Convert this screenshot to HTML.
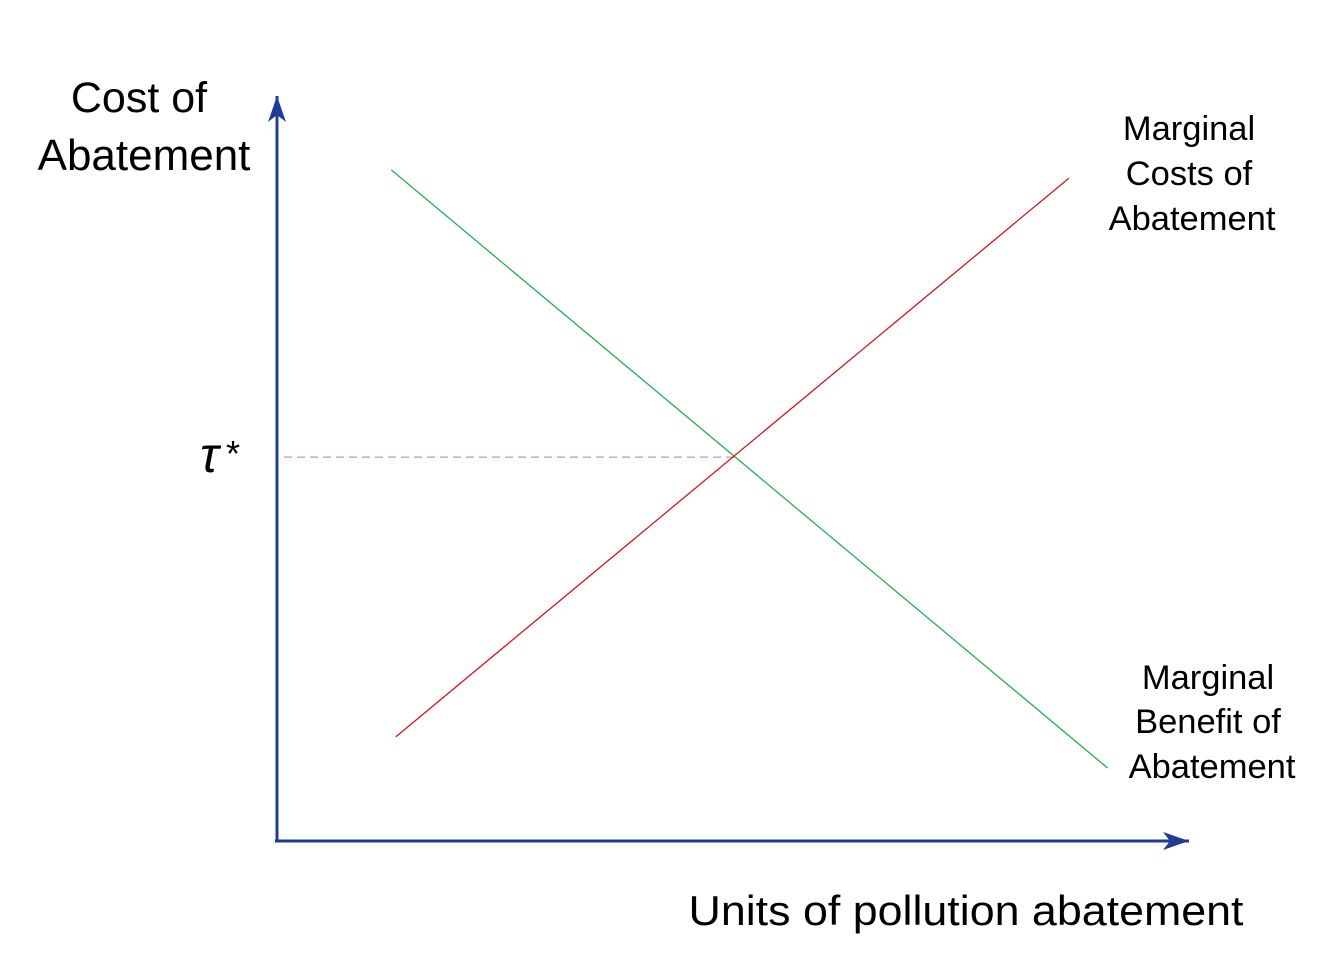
<!DOCTYPE html>
<html><head><meta charset="utf-8"><style>
html,body{margin:0;padding:0;background:#fff;}
svg{display:block;}
text{font-family:"Liberation Sans",sans-serif;fill:#000;}
</style></head><body>
<svg id="chart" width="1318" height="958" viewBox="0 0 1318 958">
<defs>
<marker id="arrBig" markerWidth="28" markerHeight="22" refX="26" refY="11" orient="auto" markerUnits="userSpaceOnUse">
<path d="M0,2 L26,11 L0,20 L7,11 Z" fill="#1f3c96"/>
</marker>
</defs>
<line x1="277" y1="842" x2="277" y2="96" stroke="#1f3c96" stroke-width="3" marker-end="url(#arrBig)"/>
<line x1="275" y1="841" x2="1189" y2="841" stroke="#1f3c96" stroke-width="3" marker-end="url(#arrBig)"/>
<g id="marks"></g>
<text x="139" y="112" font-size="43" text-anchor="middle">Cost of</text>
<text x="144" y="170" font-size="44" text-anchor="middle">Abatement</text>
<text x="966" y="925" font-size="42" text-anchor="middle" textLength="555" lengthAdjust="spacingAndGlyphs">Units of pollution abatement</text>
<g font-size="34.5" text-anchor="middle">
<text x="1189" y="140">Marginal</text><text x="1189" y="185">Costs of</text><text x="1192" y="230">Abatement</text>
</g>
<g font-size="34.5" text-anchor="middle">
<text x="1208" y="689">Marginal</text><text x="1208" y="733">Benefit of</text><text x="1212" y="778">Abatement</text>
</g>
<text x="200" y="472" font-size="50" font-style="italic" font-family="Liberation Serif, serif">τ</text>
<text x="226" y="466" font-size="36" font-family="Liberation Serif, serif">*</text>
</svg>
<script>
const mbX = [12.7, 92.3];
const mbY = [90.2, 9.8];
const mcX = [13.2, 88.0];
const mcY = [14.0, 89.1];
const tauStar = [51.6];
const tauEndX = [50.8];
const NS='http://www.w3.org/2000/svg';
function sx(v){return 277+v*9;}
function sy(v){return 841-v*7.44;}
const g=document.getElementById('marks');
function line(x1,y1,x2,y2,col,w,dash){const l=document.createElementNS(NS,'line');
l.setAttribute('x1',x1);l.setAttribute('y1',y1);l.setAttribute('x2',x2);l.setAttribute('y2',y2);
l.setAttribute('stroke',col);l.setAttribute('stroke-width',w);if(dash)l.setAttribute('stroke-dasharray',dash);g.appendChild(l);return l;}
const d=line(284,sy(tauStar[0]),sx(tauEndX[0]),sy(tauStar[0]),'#d9958a',1.2,'8,5');


const gl=line(sx(mbX[0]),sy(mbY[0]),sx(mbX[1]),sy(mbY[1]),'#22b14c',1.3);


const rl=line(sx(mcX[0]),sy(mcY[0]),sx(mcX[1]),sy(mcY[1]),'#d9141e',1.3);


</script>
</body></html>
